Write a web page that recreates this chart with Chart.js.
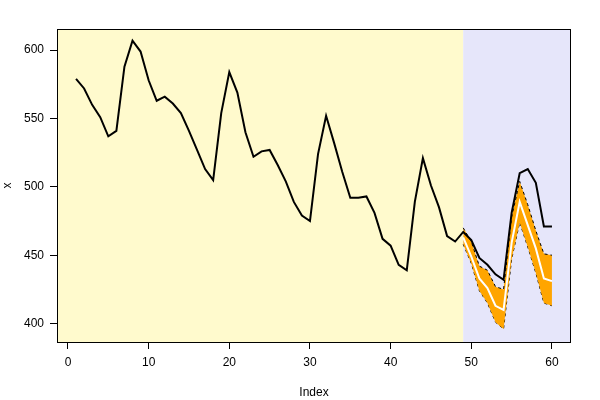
<!DOCTYPE html>
<html lang="en">
<head>
<meta charset="UTF-8" />
<title>x forecast</title>
<style>
  body { margin: 0; background: #fff; }
  #wrap { width: 600px; height: 400px; }
</style>
</head>
<body>
<div id="wrap"><canvas id="chart" width="600" height="400"></canvas></div>
<script src="https://cdn.jsdelivr.net/npm/chart.js"></script>
<script>
  // observed series, index 1..60
  const xValues = [579, 572, 560, 551, 537, 541, 588, 607, 599, 578,
                   563, 566, 561, 554, 541, 527, 513, 505, 554, 584,
                   569, 540, 522, 526, 527, 516, 504, 489, 479, 475,
                   524, 552, 532, 511, 492, 492, 493, 481, 462, 457,
                   443, 439, 489, 521, 501, 485, 464, 460, 467, 461,
                   448, 443, 436, 432, 481, 510, 513, 503, 471, 471];
  const index = xValues.map((_, i) => i + 1);

  // forecast band, index 49..60
  const fcIndex = [49, 50, 51, 52, 53, 54, 55, 56, 57, 58, 59, 60];
  const fcUpper = [470, 460, 442, 439, 427, 425, 478, 504, 487, 468, 451, 450];
  const fcMid   = [463, 449, 433, 426, 413, 410, 459, 489, 472, 455, 433, 431];
  const fcLower = [458, 444, 424, 415, 401, 396, 447, 474, 456, 437, 415, 413];

  const xTicks = [0, 10, 20, 30, 40, 50, 60];
  const yTicks = [400, 450, 500, 550, 600];
  const splitAt = 49;

  const pts = (xs, ys) => xs.map((x, i) => ({ x: x, y: ys[i] }));
  const font = { family: "'Liberation Sans', Arial, sans-serif", size: 12 };

  // yellow history / lavender forecast backdrop plus the box
  const backdrop = {
    id: 'backdrop',
    beforeDatasetsDraw(chart) {
      const { ctx, chartArea: a, scales } = chart;
      const xs = scales.x.getPixelForValue(splitAt);
      ctx.save();
      ctx.fillStyle = '#FFFACD';
      ctx.fillRect(a.left, a.top, xs - a.left, a.bottom - a.top);
      ctx.fillStyle = '#E6E6FA';
      ctx.fillRect(xs, a.top, a.right - xs, a.bottom - a.top);
      ctx.restore();
    },
    afterDraw(chart) {
      const { ctx, chartArea: a } = chart;
      ctx.save();
      ctx.strokeStyle = '#000';
      ctx.lineWidth = 1;
      ctx.strokeRect(a.left + 0.5, a.top + 0.5, a.right - a.left - 1, a.bottom - a.top);
      ctx.restore();
    }
  };

  new Chart(document.getElementById('chart'), {
    type: 'line',
    data: {
      datasets: [
        {
          label: 'x',
          data: pts(index, xValues),
          borderColor: '#000',
          borderWidth: 2,
          pointRadius: 0,
          tension: 0,
          fill: false,
          order: 0
        },
        {
          label: 'upper',
          data: pts(fcIndex, fcUpper),
          borderColor: '#000',
          borderWidth: 1,
          borderDash: [3, 3],
          pointRadius: 0,
          tension: 0,
          fill: '+1',
          backgroundColor: '#FFA500',
          order: 2
        },
        {
          label: 'lower',
          data: pts(fcIndex, fcLower),
          borderColor: '#000',
          borderWidth: 1,
          borderDash: [3, 3],
          pointRadius: 0,
          tension: 0,
          fill: false,
          order: 3
        },
        {
          label: 'forecast',
          data: pts(fcIndex, fcMid),
          borderColor: '#fff',
          borderWidth: 2,
          pointRadius: 0,
          tension: 0,
          fill: false,
          order: 1
        }
      ]
    },
    options: {
      responsive: false,
      animation: false,
      layout: { padding: { top: 29, right: 29, left: 0, bottom: 0 } },
      plugins: {
        legend: { display: false },
        tooltip: { enabled: false }
      },
      scales: {
        x: {
          type: 'linear',
          min: -1.36,
          max: 62.36,
          afterBuildTicks: s => { s.ticks = xTicks.map(v => ({ value: v })); },
          afterFit: s => { s.height = 58; },
          ticks: { color: '#000', font: font, padding: 6, maxRotation: 0 },
          grid: { drawOnChartArea: false, color: '#000', tickLength: 7 },
          border: { display: false },
          title: { display: true, text: 'Index', color: '#000', font: font, padding: { top: 0, bottom: 0 } }
        },
        y: {
          min: 386.5,
          max: 615.5,
          afterBuildTicks: s => { s.ticks = yTicks.map(v => ({ value: v })); },
          afterFit: s => { s.width = 57; },
          ticks: { color: '#000', font: font, padding: 6 },
          grid: { drawOnChartArea: false, color: '#000', tickLength: 7 },
          border: { display: false },
          title: { display: true, text: 'x', color: '#000', font: font, padding: { top: 0, bottom: 0 } }
        }
      }
    },
    plugins: [backdrop]
  });
</script>
</body>
</html>
